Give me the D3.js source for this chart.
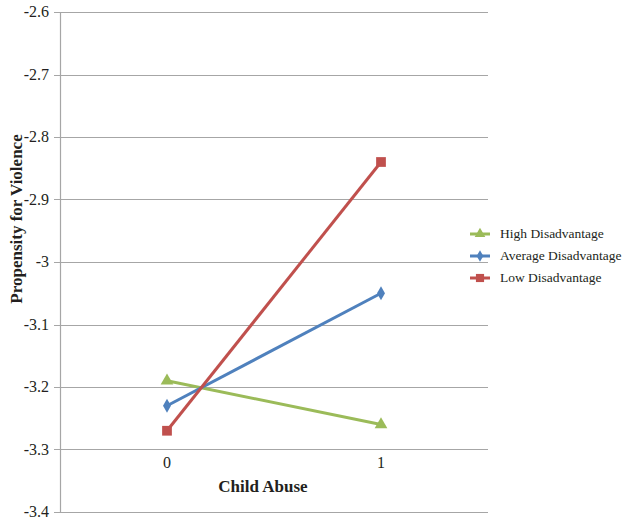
<!DOCTYPE html>
<html>
<head>
<meta charset="utf-8">
<script src="https://cdn.jsdelivr.net/npm/d3@7"></script>
<style>
  body { margin: 0; background: #fff; }
  text { font-family: "Liberation Serif", "DejaVu Serif", serif; fill: #231f20; }
</style>
</head>
<body>
<svg id="chart" width="624" height="522"></svg>
<script>
let categories = ["0", "1"];
let seriesNames = ["High Disadvantage", "Average Disadvantage", "Low Disadvantage"];
let highValues = [-3.19, -3.26];
let averageValues = [-3.23, -3.05];
let lowValues = [-3.27, -2.84];
let yTicks = [-3.4, -3.3, -3.2, -3.1, -3, -2.9, -2.8, -2.7, -2.6];

let svg = d3.select("#chart"),
    margin = { top: 12, right: 136, bottom: 10, left: 60 },
    width = +svg.attr("width") - margin.left - margin.right,
    height = +svg.attr("height") - margin.top - margin.bottom,
    g = svg.append("g").attr("transform", "translate(" + margin.left + "," + margin.top + ")");

let serif = "'Liberation Serif', 'DejaVu Serif', serif";

let x = d3.scaleBand().domain(categories).range([0, width]);
let y = d3.scaleLinear().domain([-3.4, -2.6]).range([height, 0]);
let color = d3.scaleOrdinal().domain(seriesNames).range(["#9bbb59", "#4f81bd", "#c0504d"]);
let shape = d3.scaleOrdinal().domain(seriesNames).range([d3.symbolTriangle, d3.symbolDiamond, d3.symbolSquare]);
let size = d3.scaleOrdinal().domain(seriesNames).range([70, 55, 95]);

let series = [
  { name: seriesNames[0], values: highValues },
  { name: seriesNames[1], values: averageValues },
  { name: seriesNames[2], values: lowValues }
];

// gridlines + left ticks
g.append("g")
  .selectAll("line")
  .data(yTicks)
  .enter().append("line")
    .attr("x1", -6)
    .attr("x2", width)
    .attr("y1", function(d) { return Math.round(y(d)) + 0.5; })
    .attr("y2", function(d) { return Math.round(y(d)) + 0.5; })
    .attr("stroke", "#a6a6a6")
    .attr("stroke-width", 1.2);

g.append("line")
  .attr("x1", 0.5).attr("x2", 0.5)
  .attr("y1", 0).attr("y2", height)
  .attr("stroke", "#a6a6a6")
  .attr("stroke-width", 1.2);

g.append("g")
  .selectAll("text")
  .data(yTicks)
  .enter().append("text")
    .attr("x", -11)
    .attr("y", function(d) { return y(d); })
    .attr("dy", "0.32em")
    .attr("text-anchor", "end")
    .attr("font-family", serif)
    .attr("font-size", 16)
    .text(function(d) { return String(d); });

// category labels
g.append("g")
  .selectAll("text")
  .data(categories)
  .enter().append("text")
    .attr("x", function(d) { return x(d) + x.bandwidth() / 2; })
    .attr("y", 456)
    .attr("text-anchor", "middle")
    .attr("font-family", serif)
    .attr("font-size", 16)
    .text(function(d) { return d; });

svg.append("text")
  .attr("x", 263)
  .attr("y", 492)
  .attr("text-anchor", "middle")
  .attr("font-family", serif)
  .attr("font-size", 17)
  .attr("font-weight", "bold")
  .text("Child Abuse");

svg.append("text")
  .attr("transform", "translate(22,219) rotate(-90)")
  .attr("text-anchor", "middle")
  .attr("font-family", serif)
  .attr("font-size", 17)
  .attr("font-weight", "bold")
  .text("Propensity for Violence");

let line = d3.line()
  .x(function(d, i) { return x(categories[i]) + x.bandwidth() / 2; })
  .y(function(d) { return y(d); });

let s = g.selectAll(".series")
  .data(series)
  .enter().append("g")
    .attr("class", "series");

s.append("path")
  .attr("d", function(d) { return line(d.values); })
  .attr("fill", "none")
  .attr("stroke", function(d) { return color(d.name); })
  .attr("stroke-width", 3);

s.selectAll("path.mark")
  .data(function(d) { return d.values.map(function(v, i) { return { name: d.name, v: v, i: i }; }); })
  .enter().append("path")
    .attr("class", "mark")
    .attr("transform", function(d) { return "translate(" + (x(categories[d.i]) + x.bandwidth() / 2) + "," + y(d.v) + ")"; })
    .attr("d", function(d) { return d3.symbol().type(shape(d.name)).size(size(d.name))(); })
    .attr("fill", function(d) { return color(d.name); });

// legend
let legend = svg.append("g")
  .selectAll("g")
  .data(seriesNames)
  .enter().append("g")
    .attr("transform", function(d, i) { return "translate(470," + (234 + i * 22) + ")"; });

legend.append("line")
  .attr("x1", 0).attr("x2", 20)
  .attr("stroke", color)
  .attr("stroke-width", 3);

legend.append("path")
  .attr("transform", "translate(10,0)")
  .attr("d", function(d) { return d3.symbol().type(shape(d)).size(size(d) * 0.7)(); })
  .attr("fill", color);

legend.append("text")
  .attr("x", 30)
  .attr("dy", "0.32em")
  .attr("font-family", serif)
  .attr("font-size", 13.5)
  .text(function(d) { return d; });
</script>
</body>
</html>
